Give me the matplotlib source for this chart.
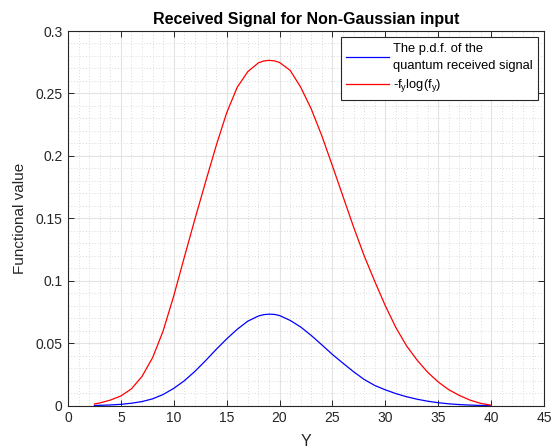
import matplotlib
matplotlib.use("Agg")
import matplotlib.pyplot as plt
from matplotlib.ticker import MultipleLocator, FixedLocator

plt.rcParams['font.family'] = ['Liberation Sans', 'DejaVu Sans']
plt.rcParams['mathtext.fontset'] = 'custom'
plt.rcParams['mathtext.rm'] = 'Liberation Sans'
plt.rcParams['mathtext.it'] = 'Liberation Sans'

# Data
y_vals = [2.5, 3, 4, 5, 6, 7, 8, 9, 10, 11, 12, 13, 14, 15, 16, 17, 18, 18.5, 19, 19.5, 20,
          21, 22, 23, 24, 25, 26, 27, 28, 29, 30, 31, 32, 33, 34, 35, 36, 37, 38, 39, 40]
pdf_vals = [0.0002, 0.0003, 0.0006, 0.0011, 0.0020, 0.0033, 0.0055, 0.0090, 0.0139,
            0.0200, 0.0275, 0.0360, 0.0450, 0.0535, 0.0612, 0.0677, 0.0718, 0.0729, 0.0733,
            0.0731, 0.0722, 0.0683, 0.0630, 0.0562, 0.0487, 0.0410, 0.0340, 0.0272, 0.0210,
            0.0162, 0.0127, 0.0097, 0.0072, 0.0052, 0.0036, 0.0024, 0.0015, 0.0009,
            0.0005, 0.0002, 0.0001]
ent_vals = [0.0014, 0.0022, 0.0045, 0.0078, 0.0135, 0.0235, 0.0385, 0.0600, 0.0880,
            0.1190, 0.1495, 0.1790, 0.2080, 0.2345, 0.2550, 0.2675, 0.2745, 0.2760, 0.2765,
            0.2761, 0.2748, 0.2685, 0.2550, 0.2375, 0.2160, 0.1920, 0.1675, 0.1430, 0.1200,
            0.0995, 0.0800, 0.0625, 0.0480, 0.0365, 0.0268, 0.0190, 0.0128, 0.0082,
            0.0045, 0.0019, 0.0004]

legend_labels = ["The p.d.f. of the\nquantum received signal", r"-f$_{\rm y}$log(f$_{\rm y}$)"]
x_ticks = [0, 5, 10, 15, 20, 25, 30, 35, 40, 45]
y_ticks = [0, 0.05, 0.1, 0.15, 0.2, 0.25, 0.3]
y_tick_labels = ["0", "0.05", "0.1", "0.15", "0.2", "0.25", "0.3"]

fig = plt.figure(figsize=(5.52, 4.48), dpi=100)
ax = fig.add_axes([0.1232, 0.0944, 0.8623, 0.8364])

ax.plot(y_vals, pdf_vals, color=(0, 0, 1), lw=0.9, label=legend_labels[0])
ax.plot(y_vals, ent_vals, color=(1, 0, 0), lw=0.9, label=legend_labels[1])

ax.set_xlim(0, 45)
ax.set_ylim(0, 0.3)
ax.xaxis.set_major_locator(FixedLocator(x_ticks))
ax.yaxis.set_major_locator(FixedLocator(y_ticks))
ax.set_yticklabels(y_tick_labels)
ax.xaxis.set_minor_locator(MultipleLocator(1))
ax.yaxis.set_minor_locator(MultipleLocator(0.01))

ax.grid(which='major', color='#e3e3e3', lw=0.8, ls='-')
ax.grid(which='minor', color='#cfcfcf', lw=0.6, ls=(0, (1, 2.5)))
ax.set_axisbelow(True)

ax.tick_params(which='major', direction='in', length=4, width=0.7, colors='#262626',
               top=True, right=True, labelsize=10, pad=4)
ax.tick_params(which='minor', length=0, top=True, right=True)
for s in ax.spines.values():
    s.set_color('#262626')
    s.set_linewidth(0.8)

ax.set_title("Received Signal for Non-Gaussian input", fontsize=11.5, fontweight='bold', pad=5)
ax.set_xlabel("Y", fontsize=11.5, color='#262626', labelpad=6)
ax.set_ylabel("Functional value", fontsize=11, color='#262626', labelpad=6)

leg = ax.legend(loc='upper right', fontsize=9.3, frameon=True, fancybox=False,
                edgecolor='#262626', framealpha=1, borderpad=0.4, handlelength=3.3,
                handletextpad=0.3, labelspacing=0.45, borderaxespad=0.5)
leg.get_frame().set_linewidth(0.8)
for t in leg.get_texts():
    t.set_linespacing(1.55)

fig.savefig("out.png", dpi=100)
